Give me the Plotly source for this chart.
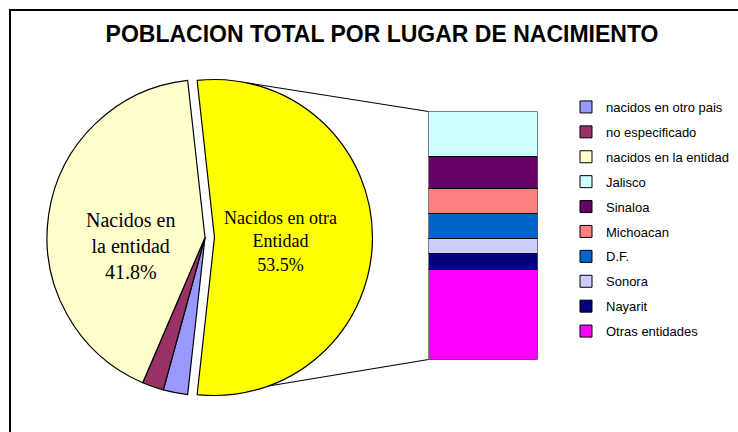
import math
import plotly.graph_objects as go

# ---- data ----
title_text = "POBLACION TOTAL POR LUGAR DE NACIMIENTO"
pie_labels = ["nacidos en otro pais", "no especificado", "nacidos en la entidad"]
pie_values = [2.5, 2.2, 41.8]
pie_colors = ["#9999FF", "#993366", "#FFFFCC"]
other_label = "Nacidos en otra Entidad"
other_color = "#FFFF00"

state_labels = ["Jalisco", "Sinaloa", "Michoacan", "D.F.", "Sonora", "Nayarit", "Otras entidades"]
state_values = [9.8, 6.9, 5.4, 5.2, 3.4, 3.3, 19.5]
state_colors = ["#CCFFFF", "#660066", "#FF8080", "#0066CC", "#CCCCFF", "#000080", "#FF00FF"]

W, H = 738, 432
def px(x):
    return x / W
def py(y):
    return 1 - y / H

other_value = sum(state_values)
total = other_value + sum(pie_values)
other_pct = other_value / total * 100
entidad_pct = pie_values[2] / total * 100

# pie geometry (pixels)
cx, cy = 205.0, 237.5
R = 158.0
pull = 0.06
half = R * (1 + pull)
pie_dom_x = [px(cx - half), px(cx + half)]
pie_dom_y = [py(cy + half), py(cy - half)]
rotation = 90 - other_pct * 3.6 / 2

fig = go.Figure()
fig.add_trace(go.Pie(
    values=[other_value] + pie_values,
    labels=[other_label] + pie_labels,
    marker=dict(colors=[other_color] + pie_colors, line=dict(color="#000000", width=1.2)),
    pull=[pull, 0, 0, 0],
    sort=False, direction="clockwise", rotation=rotation,
    textinfo="none", hoverinfo="label+percent",
    showlegend=False,
    domain=dict(x=pie_dom_x, y=pie_dom_y),
))

# bar (stack of the "otra entidad" slice)
bar_x0, bar_x1 = 428.5, 537.5
bar_top, bar_bot = 111.5, 359.5
xdom = [px(bar_x0), px(bar_x1)]
ydom = [py(bar_bot), py(bar_top)]

# legend entries for pie slices (dummy bars)
for i, (lab, col) in enumerate(zip(pie_labels, pie_colors)):
    fig.add_trace(go.Bar(x=[None], y=[None], name=lab, marker=dict(color=col, line=dict(color="#000000", width=1)),
                         legendrank=i + 1, legendgroup=lab, showlegend=True))

for j in range(len(state_labels) - 1, -1, -1):
    fig.add_trace(go.Bar(
        x=[0], y=[state_values[j]], name=state_labels[j], width=1,
        marker=dict(color=state_colors[j], line=dict(color="#000000", width=1)),
        legendrank=4 + j, legendgroup=state_labels[j], hoverinfo="name+y",
    ))

# connector lines from exploded slice to bar
ecx = cx + R * pull  # exploded center (pulled to the right)
def pie_pt(angle_deg):
    a = math.radians(angle_deg)
    return ecx + R * math.sin(a), cy - R * math.cos(a)

tx, ty = pie_pt(12)
bx, by = pie_pt(160)
shapes = [
    dict(type="line", xref="paper", yref="paper", x0=px(tx), y0=py(ty), x1=xdom[0], y1=ydom[1],
         line=dict(color="#000000", width=1.2)),
    dict(type="line", xref="paper", yref="paper", x0=px(bx), y0=py(by), x1=xdom[0], y1=ydom[0],
         line=dict(color="#000000", width=1.2)),
    dict(type="rect", xref="paper", yref="paper", x0=px(10), y0=-0.05, x1=1.05, y1=py(10),
         line=dict(color="#000000", width=2)),
]

annotations = [
    dict(x=px(280), y=py(241), xref="paper", yref="paper", showarrow=False,
         xanchor="center", yanchor="middle",
         text="Nacidos en otra<br>Entidad<br>%.1f%%" % other_pct,
         font=dict(family="Liberation Serif, Times New Roman, serif", size=18, color="#000000")),
    dict(x=px(130), y=py(246), xref="paper", yref="paper", showarrow=False,
         xanchor="center", yanchor="middle",
         text="Nacidos en<br>la entidad<br>%.1f%%" % entidad_pct,
         font=dict(family="Liberation Serif, Times New Roman, serif", size=20, color="#000000")),
]

fig.update_layout(
    width=W, height=H,
    margin=dict(l=0, r=0, t=0, b=0),
    paper_bgcolor="#FFFFFF", plot_bgcolor="rgba(0,0,0,0)",
    barmode="stack",
    title=dict(text="<b>%s</b>" % title_text, x=px(382), xanchor="center", y=py(34), yanchor="middle",
               xref="paper", yref="container",
               font=dict(family="Liberation Sans, Arial, sans-serif", size=23, color="#000000")),
    xaxis=dict(domain=xdom, range=[-0.5, 0.5], visible=False, fixedrange=True),
    yaxis=dict(domain=ydom, range=[0, other_value], visible=False, fixedrange=True),
    legend=dict(x=px(566), y=py(92), xanchor="left", yanchor="top",
                font=dict(family="Liberation Sans, Arial, sans-serif", size=13, color="#000000"),
                tracegroupgap=5, bgcolor="rgba(0,0,0,0)", traceorder="grouped"),
    shapes=shapes, annotations=annotations,
    showlegend=True,
)

fig.write_html("out.html", config={"displayModeBar": False},
               post_script="document.body.style.margin='0px';")
